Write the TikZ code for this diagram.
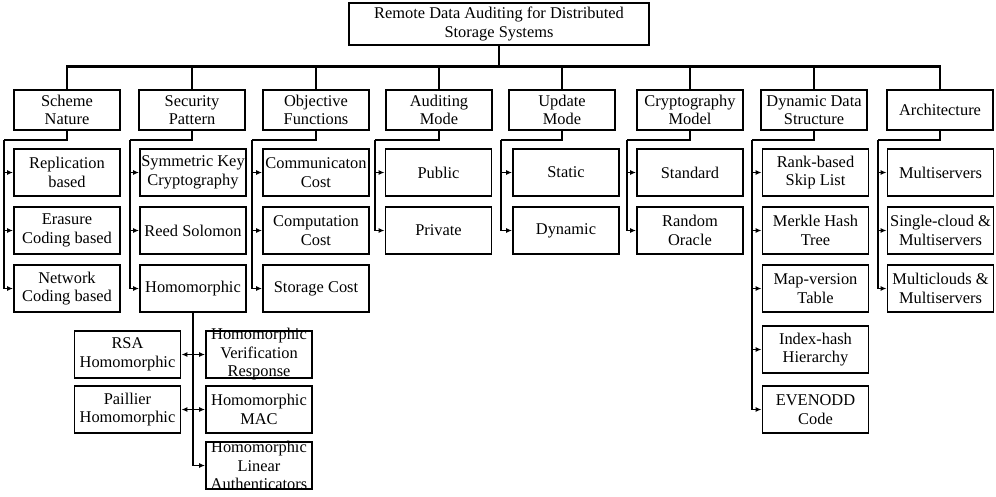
\documentclass[tikz,border=0pt]{standalone}
\usepackage{fontspec}
\setmainfont{Liberation Serif}
\usetikzlibrary{arrows.meta}

\begin{document}
\begin{tikzpicture}[x=1pt,y=-1pt,
  font=\fontsize{16.4}{18.5}\selectfont,
  rootbox/.style={draw, line width=2.6pt, minimum width=300pt, minimum height=42pt, inner sep=0pt, align=center},
  catbox/.style={draw, line width=2.5pt, minimum width=106pt, minimum height=40pt, inner sep=0pt, align=center},
  leafbox/.style={draw, line width=1.9pt, minimum width=106pt, minimum height=47pt, inner sep=0pt, align=center},
  busline/.style={line width=2.5pt},
  link/.style={line width=1.8pt},
  arr/.style={link, -{Latex[length=6pt,width=5pt]}},
  overtext/.style={align=center, inner sep=0pt}
]
\useasboundingbox (0,0) rectangle (996,496);

% root of the taxonomy
\node[rootbox] (root) at (499,24) {Remote Data Auditing for Distributed\\Storage Systems};

% categories
\node[catbox] (sn)  at (67,110)  {Scheme\\Nature};
\node[catbox] (sp)  at (192,110) {Security\\Pattern};
\node[catbox] (of)  at (316,110) {Objective\\Functions};
\node[catbox] (am)  at (439,110) {Auditing\\Mode};
\node[catbox] (um)  at (562,110) {Update\\Mode};
\node[catbox] (cm)  at (690,110) {Cryptography\\Model};
\node[catbox] (dds) at (814,110) {Dynamic Data\\Structure};
\node[catbox] (ar)  at (940,110) {Architecture};

% bus from the root to every category
\foreach \c in {sn,sp,of,am,um,cm,dds,ar}
  \draw[busline] (root.south) -- ++(0,20) -| (\c.north);

% trunk bend points below each category
\coordinate (snb)  at (4,140);
\coordinate (spb)  at (130,140);
\coordinate (ofb)  at (252,140);
\coordinate (amb)  at (375,140);
\coordinate (umb)  at (501,140);
\coordinate (cmb)  at (627,140);
\coordinate (ddsb) at (752,140);
\coordinate (arb)  at (878,140);

% Scheme Nature
\node[leafbox] (sn1) at (67,172.5) {Replication\\based};
\node[leafbox] (sn2) at (67,230.5) {Erasure\\Coding based};
\node[leafbox] (sn3) at (67,288.5) {Network\\Coding based};

% Security Pattern
\node[leafbox] (sp1) at (193,172.5) {Symmetric Key\\Cryptography};
\node[leafbox] (sp2) at (193,230.5) {Reed Solomon};
\node[leafbox] (hom) at (193,288.5) {Homomorphic};

% Objective Functions
\node[leafbox] (of1) at (316,172.5) {Communicaton\\Cost};
\node[leafbox] (of2) at (316,230.5) {Computation\\Cost};
\node[leafbox] (of3) at (316,288.5) {Storage Cost};

% Auditing Mode
\node[leafbox] (am1) at (438.5,172.5) {Public};
\node[leafbox] (am2) at (438.5,230.5) {Private};

% Update Mode
\node[leafbox] (um1) at (566,172.5) {Static};
\node[leafbox] (um2) at (566,230.5) {Dynamic};

% Cryptography Model
\node[leafbox] (cm1) at (690,172.5) {Standard};
\node[leafbox] (cm2) at (690,230.5) {Random\\Oracle};

% Dynamic Data Structure
\node[leafbox] (dd1) at (815.5,172.5) {Rank-based\\Skip List};
\node[leafbox] (dd2) at (815.5,230.5) {Merkle Hash\\Tree};
\node[leafbox] (dd3) at (815.5,288.5) {Map-version\\Table};
\node[leafbox] (dd4) at (815.5,349.5) {Index-hash\\Hierarchy};
\node[leafbox] (dd5) at (815.5,409.5) {EVENODD\\Code};

% Architecture
\node[leafbox] (ar1) at (940.5,172.5) {Multiservers};
\node[leafbox] (ar2) at (940.5,230.5) {Single-cloud \&\\Multiservers};
\node[leafbox] (ar3) at (940.5,288.5) {Multiclouds \&\\Multiservers};

% homomorphic schemes
\node[leafbox] (rsa) at (127.5,354.5) {RSA\\Homomorphic};
\node[leafbox] (pai) at (127.5,409.5) {Paillier\\Homomorphic};
\node[leafbox] (hvr) at (259,354.5) {};
\node[overtext] (hvrt) at (hvr.center) {Homomorphic\\Verification\\Response};
\node[leafbox] (mac) at (259,409.5) {Homomorphic\\MAC};
\node[leafbox] (hla) at (259,465.5) {};
\node[overtext] (hlat) at (hla.center) {Homomorphic\\Linear\\Authenticators};

% category stems down to the trunks
\draw[link] (sn.south)  |- (snb);
\draw[link] (sp.south)  |- (spb);
\draw[link] (of.south)  |- (ofb);
\draw[link] (am.south)  |- (amb);
\draw[link] (um.south)  |- (umb);
\draw[link] (cm.south)  |- (cmb);
\draw[link] (dds.south) |- (ddsb);
\draw[link] (ar.south)  |- (arb);

% trunks to the leaves
\foreach \t/\l in {snb/sn1,snb/sn2,snb/sn3,
                   spb/sp1,spb/sp2,spb/hom,
                   ofb/of1,ofb/of2,ofb/of3,
                   amb/am1,amb/am2,
                   umb/um1,umb/um2,
                   cmb/cm1,cmb/cm2,
                   ddsb/dd1,ddsb/dd2,ddsb/dd3,ddsb/dd4,ddsb/dd5,
                   arb/ar1,arb/ar2,arb/ar3}
  \draw[arr] (\t) |- (\l.west);

% homomorphic branch
\draw[arr] (hom.south) |- (rsa.east);
\draw[arr] (hom.south) |- (hvr.west);
\draw[arr] (hom.south) |- (pai.east);
\draw[arr] (hom.south) |- (mac.west);
\draw[arr] (hom.south) |- (hla.west);
\end{tikzpicture}
\end{document}
